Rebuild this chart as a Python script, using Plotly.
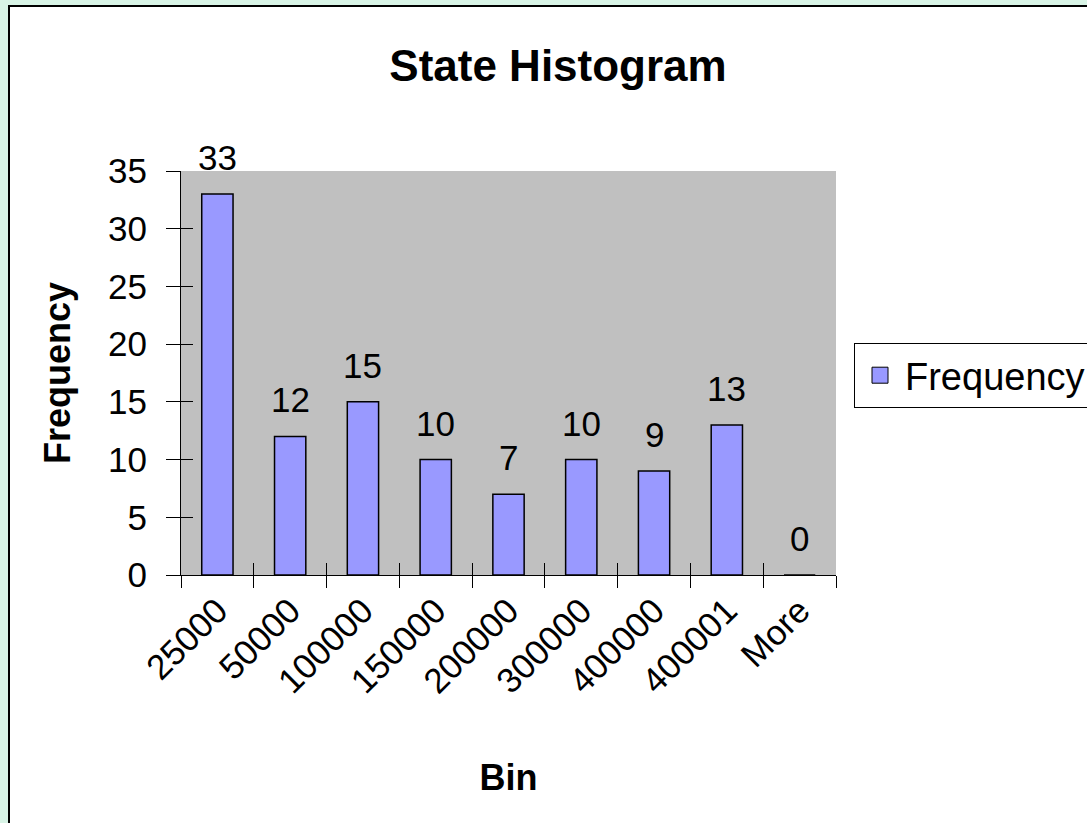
import plotly.graph_objects as go

categories = ["25000", "50000", "100000", "150000", "200000", "300000", "400000", "400001", "More"]
frequency = [33, 12, 15, 10, 7, 10, 9, 13, 0]
y_range = [0, 35]
y_step = 5

FONT = "Liberation Sans, Arial, sans-serif"
W, H = 1087, 823
L, R, T, B = 181, 251, 171, 248
pw, ph = W - L - R, H - T - B


def px_x(p):
    return (p - L) / pw


def px_y(p):
    return (H - B - p) / ph


fig = go.Figure()
fig.add_trace(go.Bar(
    x=categories, y=frequency, name="Frequency",
    marker=dict(color="#9999ff", line=dict(color="black", width=1.5)),
    showlegend=False, hoverinfo="x+y",
))
# legend proxy (no drawn points)
fig.add_trace(go.Scatter(
    x=[None], y=[None], name="Frequency", mode="markers",
    marker=dict(symbol="square", size=16, color="#9999ff", line=dict(color="black", width=1)),
    showlegend=True,
))
# carrier for the overlaid axes that draw the inner half of the cross tick marks
fig.add_trace(go.Scatter(x=[None], y=[None], xaxis="x2", yaxis="y2", showlegend=False,
                         hoverinfo="skip"))

annotations = []
for i, v in enumerate(frequency):
    annotations.append(dict(
        x=i, y=v, xref="x", yref="y", text=str(v), showarrow=False,
        yanchor="bottom", yshift=15, font=dict(family=FONT, size=35, color="black"),
    ))

n = len(categories)
boundaries = [i - 0.5 for i in range(n + 1)]

fig.update_layout(
    width=W, height=H,
    margin=dict(l=L, r=R, t=T, b=B, autoexpand=False),
    paper_bgcolor="#d8f4e6",
    plot_bgcolor="rgba(0,0,0,0)",
    font=dict(family=FONT, size=35, color="black"),
    bargap=0.57,
    title=dict(text="<b>State Histogram</b>", font=dict(family=FONT, size=44, color="black"),
               x=px_x(558), xref="paper", xanchor="center", y=1 - 66 / H, yref="container",
               yanchor="middle"),
    shapes=[
        dict(type="rect", xref="paper", yref="paper", x0=px_x(9), x1=px_x(1110),
             y0=px_y(840), y1=px_y(6), fillcolor="white", line=dict(color="black", width=2),
             layer="below"),
        dict(type="rect", xref="paper", yref="paper", x0=0, x1=1, y0=0, y1=1,
             fillcolor="#c0c0c0", line=dict(width=0), layer="below"),
    ],
    annotations=annotations,
    xaxis=dict(
        type="category", categoryorder="array", categoryarray=categories,
        range=[-0.5, n - 0.5], tickson="boundaries", ticks="outside", ticklen=12,
        tickcolor="black", showline=True, linecolor="black", linewidth=1,
        tickangle=-45, tickfont=dict(family=FONT, size=35), showgrid=False, zeroline=False,
        title=dict(text="<b>Bin</b>", font=dict(family=FONT, size=36), standoff=65),
    ),
    xaxis2=dict(
        overlaying="x", anchor="y", side="bottom", range=[-0.5, n - 0.5],
        tickmode="array", tickvals=boundaries, ticks="inside", ticklen=12, tickcolor="black",
        showticklabels=False, showgrid=False, showline=False, zeroline=False,
    ),
    yaxis=dict(
        range=y_range, dtick=y_step, tick0=0, ticks="outside", ticklen=14, tickcolor="black",
        showline=True, linecolor="black", linewidth=1, ticklabelstandoff=12,
        tickfont=dict(family=FONT, size=35), showgrid=False, zeroline=False,
        title=dict(text="<b>Frequency</b>", font=dict(family=FONT, size=36), standoff=26),
    ),
    yaxis2=dict(
        overlaying="y", anchor="x", side="left", range=y_range, dtick=y_step, tick0=0,
        ticks="inside", ticklen=12, tickcolor="black", showticklabels=False,
        showgrid=False, showline=False, zeroline=False,
    ),
    legend=dict(
        x=px_x(854), y=px_y(343), xref="paper", yref="paper", xanchor="left", yanchor="top",
        bgcolor="white", bordercolor="black", borderwidth=1, itemwidth=40,
        font=dict(family=FONT, size=38, color="black"),
    ),
)

fig.write_html("out.html", config={"displayModeBar": False},
               post_script="document.body.style.margin='0';")
